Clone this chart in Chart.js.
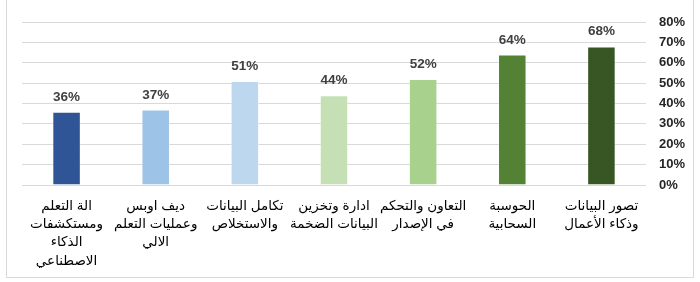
<!DOCTYPE html>
<html><head><meta charset="utf-8">
<script src="https://cdn.jsdelivr.net/npm/chart.js@4/dist/chart.umd.min.js"></script>
<style>html,body{margin:0;padding:0;background:#fff;}#wrap{width:700px;height:282px;position:relative;}</style>
</head><body><div id="wrap"><canvas id="c" width="700" height="282"></canvas></div>
<script>
const categories = [
  ["تصور البيانات","وذكاء الأعمال"],
  ["الحوسبة","السحابية"],
  ["التعاون والتحكم","في الإصدار"],
  ["ادارة وتخزين","البيانات الضخمة"],
  ["تكامل البيانات","والاستخلاص"],
  ["ديف اوبس","وعمليات التعلم","الالي"],
  ["الة التعلم","ومستكشفات","الذكاء","الاصطناعي"]
];
const values = [68, 64, 52, 44, 51, 37, 36];
const barColors = ["#375623","#548235","#A9D18E","#C5E0B4","#BDD7EE","#9DC3E6","#2F5597"];
const yTicks = [0,10,20,30,40,50,60,70,80];

const frame = {
  id:'frame',
  beforeDraw(chart){
    const ctx = chart.ctx; ctx.save();
    ctx.fillStyle='#fff'; ctx.fillRect(0,0,chart.width,chart.height);
    ctx.strokeStyle='#d9d9d9'; ctx.lineWidth=1;
    ctx.strokeRect(6.5,-2,687,279.5);
    ctx.restore();
  }
};
const labelsPlugin = {
  id:'vlabels',
  afterDatasetsDraw(chart){
    const ctx = chart.ctx; ctx.save();
    ctx.font = 'bold 13.5px "Liberation Sans", Arial, sans-serif';
    ctx.fillStyle = '#404040'; ctx.textAlign='center'; ctx.textBaseline='alphabetic';
    chart.getDatasetMeta(0).data.forEach((bar,i)=>{
      ctx.fillText(values[i]+'%', bar.x, bar.y-11);
    });
    ctx.restore();
  }
};
new Chart(document.getElementById('c'), {
  type:'bar',
  data:{labels:categories, datasets:[{data:values, backgroundColor:barColors, borderColor:'rgba(255,255,255,0.35)', borderWidth:1, categoryPercentage:1, barPercentage:0.32}]},
  options:{
    responsive:false, animation:false,
    layout:{padding:{left:22,top:22,right:0,bottom:0}},
    plugins:{legend:{display:false}, tooltip:{enabled:false}},
    scales:{
      x:{reverse:true, grid:{display:false}, border:{display:false},
         ticks:{autoSkip:false, maxRotation:0, minRotation:0, padding:4, color:'#000',
           font:{family:'"Liberation Sans", Arial, "DejaVu Sans", sans-serif', size:13.5, lineHeight:1.35}},
         afterFit(s){ s.height = 97; }},
      y:{position:'right', min:0, max:80, grid:{color:'#d9d9d9', lineWidth:1, drawTicks:false}, border:{display:false},
         afterBuildTicks(s){ s.ticks = yTicks.map(v=>({value:v})); },
         ticks:{padding:13, color:'#262626', callback:v=>v+'%',
           font:{family:'"Liberation Sans", Arial, sans-serif', size:13, weight:'bold'}},
         afterFit(s){ s.width = 54; }}
    }
  },
  plugins:[frame, labelsPlugin]
});
</script></body></html>
